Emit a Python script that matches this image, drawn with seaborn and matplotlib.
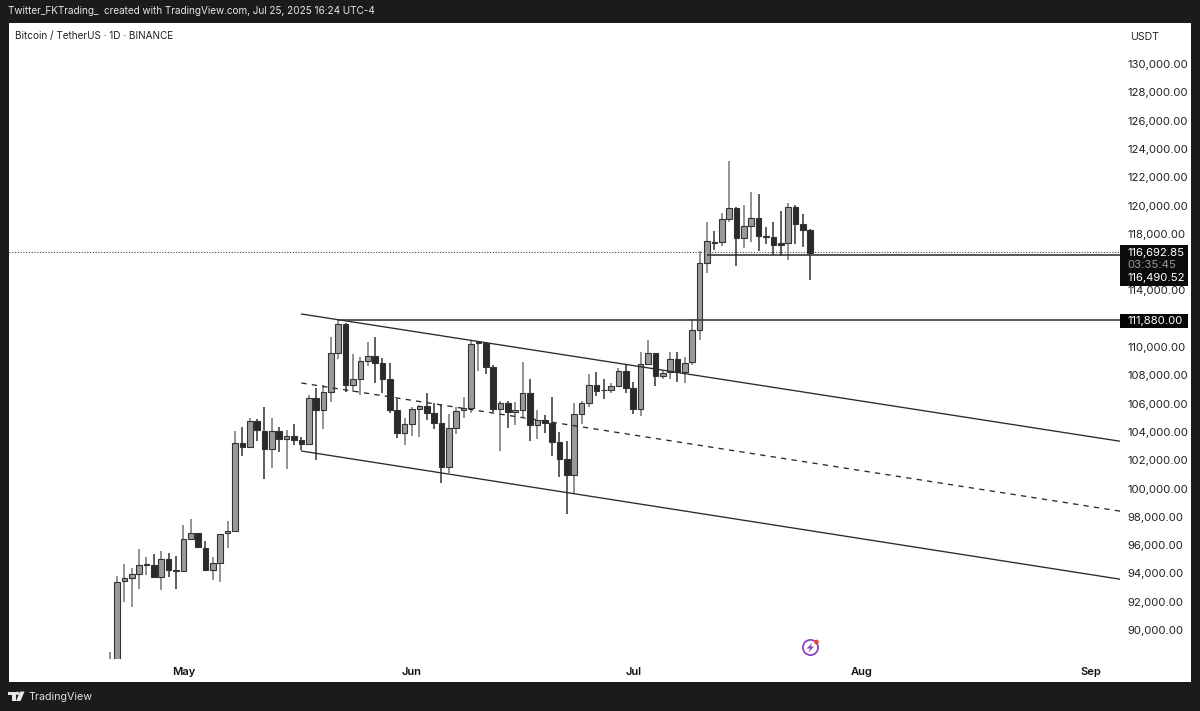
import numpy as np
import pandas as pd
import matplotlib
matplotlib.use("Agg")
import matplotlib.pyplot as plt
import matplotlib.dates as mdates
from matplotlib.patches import Rectangle, Circle, Polygon
import seaborn as sns

start_date = "2025-04-21"
opens = [85180,87516,93438,93650,93956,94592,94592,93721,94993,94215,
 94145,96453,96878,95817,94239,94710,96830,96995,103239,102909,104770,104087,102767,104063,103474,103733,103427,103121,106419,105523,106796,109599,111649,107290,107738,108987,109387,108893,107762,105547,103945,
 104534,105594,105830,105358,104652,101495,104251,105547,105712,110259,110259,108610,105642,106019,105383,105548,106726,104511,104841,104652,103262,102084,100953,105288,106066,107315,106985,106985,107267,108328,
 107103,105642,108799,109553,107951,108210,109152,108257,108940,111200,115959,117443,117396,119022,119799,117726,118574,119092,117867,117796,117325,117325,119917,118692,118268]
highs = [88467,93838,94640,94386,95747,95181,95370,95582,95464,95228,
 97420,97867,96878,96265,95181,96807,97702,104087,104370,104959,104912,105783,104959,104346,104134,104535,103663,106608,107078,107314,110730,111908,111720,109481,109317,110377,110683,109246,108845,106301,104958,
 105783,105900,106725,106065,105971,105288,105783,106442,110424,110377,110377,108727,106207,106207,106090,108917,107715,105548,105194,106490,103969,103357,106019,106207,108068,108210,107715,107432,108493,108775,
 107503,109671,110495,109553,108304,109624,109624,109272,111954,116807,118833,118197,119446,123144,119870,120035,120953,120787,118456,118833,119634,120199,120010,119422,118362]
lows = [85143,87084,91954,91648,92872,93890,93650,92825,93768,92919,
 94145,96453,95841,94192,93509,93390,95817,96925,102296,102838,103356,100694,101424,102603,101378,103074,102720,103121,102013,104204,106089,109152,106819,106843,106607,108657,107479,106772,105311,103592,103073,
 103709,103639,104840,104181,100411,101118,103851,104958,105311,108327,108068,105429,102673,104299,104487,105029,103357,103498,103945,102320,100836,98221,99611,104558,105783,106561,106349,106773,107150,106726,
 105241,105124,108728,107244,107762,107762,107503,107480,108700,110493,115205,116854,117160,118857,115723,117019,117443,116807,117278,116500,116430,116147,117278,117090,114734]
closes = [87516,93414,93650,93956,94592,94640,93721,94993,94239,94145,
 96453,96878,95841,94239,94710,96807,96995,103239,102956,104770,104110,102791,104063,103498,103733,103451,103121,106419,105523,106796,109599,111649,107290,107715,108987,109387,108893,107762,105547,103945,104534,
 105618,105830,105358,104652,101495,104251,105500,105712,110235,110330,108610,105641,106019,105383,105548,106726,104511,104817,104652,103262,102084,100953,105288,106066,107315,106914,106938,107267,108328,107103,
 105642,108799,109553,107951,108163,109152,108210,108870,111200,115959,117467,117373,119022,119799,117702,118574,119092,117867,117796,117207,117207,119917,118692,118268,116665]

channel_dates = ["2025-05-17", "2025-09-06"]
channel_upper = [112333, 103260]
channel_mid = [107456, 98320]
channel_lower = [102651, 93510]
level_resistance = 111880
level_support = 116490.52
level_last = 116692.85
resistance_start = "2025-05-22"
support_start = "2025-07-11"
y_ticks = [90000 + 2000 * i for i in range(21)]
hidden_ticks = [112000, 116000]
month_ticks = ["2025-05-01", "2025-06-01", "2025-07-01", "2025-08-01", "2025-09-01"]
month_labels = ["May", "Jun", "Jul", "Aug", "Sep"]

W, H = 1200, 711
sns.set_theme(style="white")
FONT = ["Inter", "DejaVu Sans"]
plt.rcParams["font.family"] = FONT
DARK = "#1b1b1b"
fig = plt.figure(figsize=(W / 100, H / 100), dpi=100, facecolor=DARK)
fig.patches.append(Rectangle((9 / W, 1 - 682 / H), 1182 / W, 659 / H, transform=fig.transFigure, fc="white", ec="none"))

ax = fig.add_axes([9 / W, 1 - 659 / H, 1111 / W, 636 / H], facecolor="none", zorder=3)
for s in ax.spines.values():
    s.set_visible(False)

df = pd.DataFrame({"date": pd.date_range(start_date, periods=len(opens)), "open": opens, "high": highs, "low": lows, "close": closes})
df["x"] = mdates.date2num(df["date"])
df["up"] = df["close"] >= df["open"]
UP, DOWN = "#9a9a9a", "#2a2a2a"
for up, g in df.groupby("up"):
    ax.vlines(g["x"], g["low"], g["high"], color="#7a7a7a" if up else "#3a3a3a", lw=1.15, zorder=2)
    ax.bar(g["x"], (g["close"] - g["open"]).abs(), bottom=g[["open", "close"]].min(axis=1), width=0.76,
           color=UP if up else DOWN, edgecolor="#333333", linewidth=0.8, zorder=3)

dn = mdates.date2num(pd.to_datetime(channel_dates))
for vals, ls in [(channel_upper, "-"), (channel_mid, (0, (4, 4))), (channel_lower, "-")]:
    sns.lineplot(x=dn, y=vals, ax=ax, color="#2a2a2a", lw=0.95, linestyle=ls, zorder=4, legend=False, errorbar=None)

x0 = mdates.date2num(pd.Timestamp("2025-04-22"))
xlim = (x0 - 14.64, x0 + 136.0)
ax.hlines(level_resistance, mdates.date2num(pd.Timestamp(resistance_start)), xlim[1], color="#3a3a3a", lw=1.2, zorder=4)
ax.hlines(level_support, mdates.date2num(pd.Timestamp(support_start)), xlim[1], color="#3a3a3a", lw=1.2, zorder=4)
ax.axhline(level_last, color="#444444", lw=0.8, ls=(0, (1, 1.5)), zorder=1)

ax.set_xlim(*xlim)
ax.set_ylim(87952, 132897)
ax.yaxis.tick_right()
ax.set_yticks([t for t in y_ticks if t not in hidden_ticks])
ax.set_yticklabels([f"{t:,.2f}" for t in y_ticks if t not in hidden_ticks], fontsize=8.2, color="#222222")
ax.tick_params(axis="y", length=0, pad=5.4)
ax.set_xticks(mdates.date2num(pd.to_datetime(month_ticks)))
ax.set_xticklabels(month_labels, fontsize=8.0, color="#111111", fontweight="semibold")
ax.tick_params(axis="x", length=0, pad=5.5)
ax.grid(False)

def price_px(p):
    return 64 + (130000 - p) / 70.67

ov = fig.add_axes([0, 0, 1, 1], facecolor="none", zorder=5)
ov.set_xlim(0, W)
ov.set_ylim(H, 0)
ov.axis("off")
ov.add_patch(Rectangle((1120, 245), 68, 41, fc="#0b0b0b", ec="none"))
ov.add_patch(Rectangle((1120, 314), 68, 14, fc="#050505", ec="none"))
tag = dict(ha="left", va="center", fontsize=8.2, color="white")
ov.text(1127, price_px(level_last) + 0.5, f"{level_last:,.2f}", **tag)
ov.text(1127, 264.5, "03:35:45", ha="left", va="center", fontsize=8.2, color="#9a9a9a")
ov.text(1127, 278, f"{level_support:,.2f}", **tag)
ov.text(1127, 321, f"{level_resistance:,.2f}", **tag)
ov.text(1130, 36.5, "USDT", ha="left", va="center", fontsize=7.6, color="#222222")
ov.text(15, 35.5, "Bitcoin / TetherUS · 1D · BINANCE", ha="left", va="center", fontsize=7.2, color="#222222")
ov.text(8, 11.5, "Twitter_FKTrading_  created with TradingView.com, Jul 25, 2025 16:24 UTC-4", ha="left", va="center", fontsize=7.17, color="#e6e6e6")
ov.text(28, 696.5, "TradingView", ha="left", va="center", fontsize=7.7, color="#e0e0e0")
ov.add_patch(Polygon([(8, 691.5), (15.5, 691.5), (15.5, 701), (11.5, 701), (11.5, 695), (8, 695)], fc="#e8e8e8", ec="none"))
ov.add_patch(Circle((17.5, 693.3), 1.7, fc="#e8e8e8", ec="none"))
ov.add_patch(Polygon([(20, 691.5), (24.5, 691.5), (20.5, 701), (16, 701)], fc="#e8e8e8", ec="none"))
ov.add_patch(Circle((810.5, 647.5), 7.6, fc="none", ec="#8e44c4", lw=1.3))
ov.add_patch(Polygon([(812.5, 642.5), (806.8, 648.5), (810, 648.5), (808.5, 652.5), (814, 646.5), (810.8, 646.5)], fc="#8e44c4", ec="none"))
ov.add_patch(Circle((816.5, 642), 2.3, fc="#e0413e", ec="none"))

fig.savefig("out.png", dpi=100, facecolor=DARK)
